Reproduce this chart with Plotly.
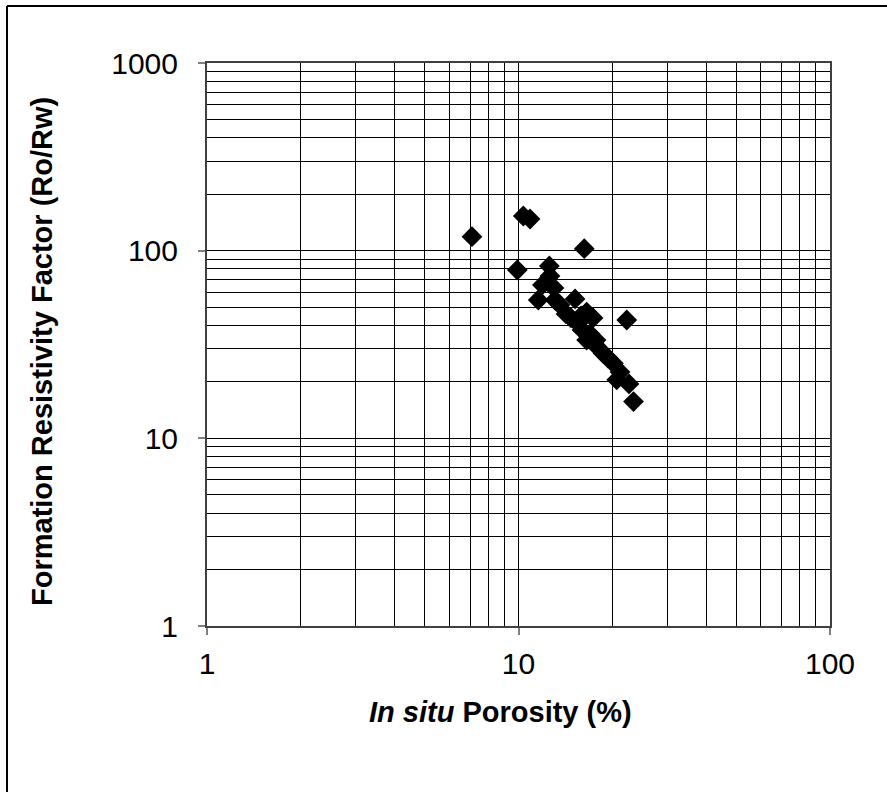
import plotly.graph_objects as go

# In situ porosity (%) and formation resistivity factor (Ro/Rw)
porosity = [7.09, 10.36, 10.89, 16.26, 9.91, 12.56, 22.26, 23.4,
            12.62, 11.93, 13.0, 11.57, 13.1, 15.19, 14.21, 16.55,
            17.35, 15.52, 16.97, 16.55, 17.87, 18.68, 20.16, 21.18,
            20.67, 22.63, 14.74, 15.99, 17.74, 19.38, 15.87, 13.59]
formation_factor = [118.8, 153.0, 147.5, 102.5, 78.9, 82.9, 42.7, 15.7,
                    73.3, 65.7, 63.3, 54.6, 54.6, 55.3, 46.0, 47.1,
                    43.8, 41.0, 36.0, 33.4, 30.8, 28.4, 25.1, 22.6,
                    20.5, 19.5, 43.8, 37.8, 33.4, 26.8, 44.9, 51.4]

x_ticks = [1, 10, 100]
x_tick_labels = ["1", "10", "100"]
y_ticks = [1, 10, 100, 1000]
y_tick_labels = ["1", "10", "100", "1000"]

FONT = "Arial, Liberation Sans, sans-serif"

fig = go.Figure()
fig.add_trace(go.Scatter(
    x=porosity, y=formation_factor, mode="markers",
    marker=dict(symbol="diamond", size=16, color="black", line=dict(width=0)),
    showlegend=False, cliponaxis=False,
))

axis_common = dict(
    type="log",
    showgrid=True, gridcolor="black", gridwidth=1,
    minor=dict(showgrid=True, gridcolor="black", gridwidth=1, dtick="D1", ticks=""),
    showline=True, linecolor="#404040", linewidth=2, mirror=True,
    ticks="outside", ticklen=7, tickcolor="#808080", tickwidth=2,
    tickfont=dict(family=FONT, size=30, color="black"),
    zeroline=False,
)

fig.update_xaxes(range=[0, 2], tickvals=x_ticks, ticktext=x_tick_labels,
                 ticklabelstandoff=3, **axis_common)
fig.update_yaxes(range=[0, 3], tickvals=y_ticks, ticktext=y_tick_labels,
                 ticklabelstandoff=14, **axis_common)

L, R, T, B = 207, 57, 63, 166
W, H = 887, 792
pw, ph = W - L - R, H - T - B

def px_to_paper_x(px):
    return (px - L) / pw

def px_to_paper_y(py):
    return (H - B - py) / ph

fig.add_annotation(
    text="<b><i>In situ</i> Porosity (%)</b>",
    xref="paper", yref="paper", x=px_to_paper_x(500), y=px_to_paper_y(712),
    xanchor="center", yanchor="middle", showarrow=False,
    font=dict(family=FONT, size=29, color="black"),
)
fig.add_annotation(
    text="<b>Formation Resistivity Factor (Ro/Rw)</b>",
    xref="paper", yref="paper", x=px_to_paper_x(42), y=px_to_paper_y(352),
    xanchor="center", yanchor="middle", textangle=-90, showarrow=False,
    font=dict(family=FONT, size=29, color="black"),
)

# outer chart border: only its left and top edges fall inside the picture
fig.add_shape(type="line", xref="paper", yref="paper",
              x0=px_to_paper_x(7), y0=px_to_paper_y(6),
              x1=px_to_paper_x(W), y1=px_to_paper_y(6),
              line=dict(color="black", width=2), layer="below")
fig.add_shape(type="line", xref="paper", yref="paper",
              x0=px_to_paper_x(7), y0=px_to_paper_y(6),
              x1=px_to_paper_x(7), y1=px_to_paper_y(H),
              line=dict(color="black", width=2), layer="below")

fig.update_layout(
    width=W, height=H,
    margin=dict(l=L, r=R, t=T, b=B, autoexpand=False),
    paper_bgcolor="white", plot_bgcolor="white",
)

fig.write_html("out.html", config={"displayModeBar": False},
               post_script="document.body.style.margin='0';document.body.style.overflow='hidden';")
